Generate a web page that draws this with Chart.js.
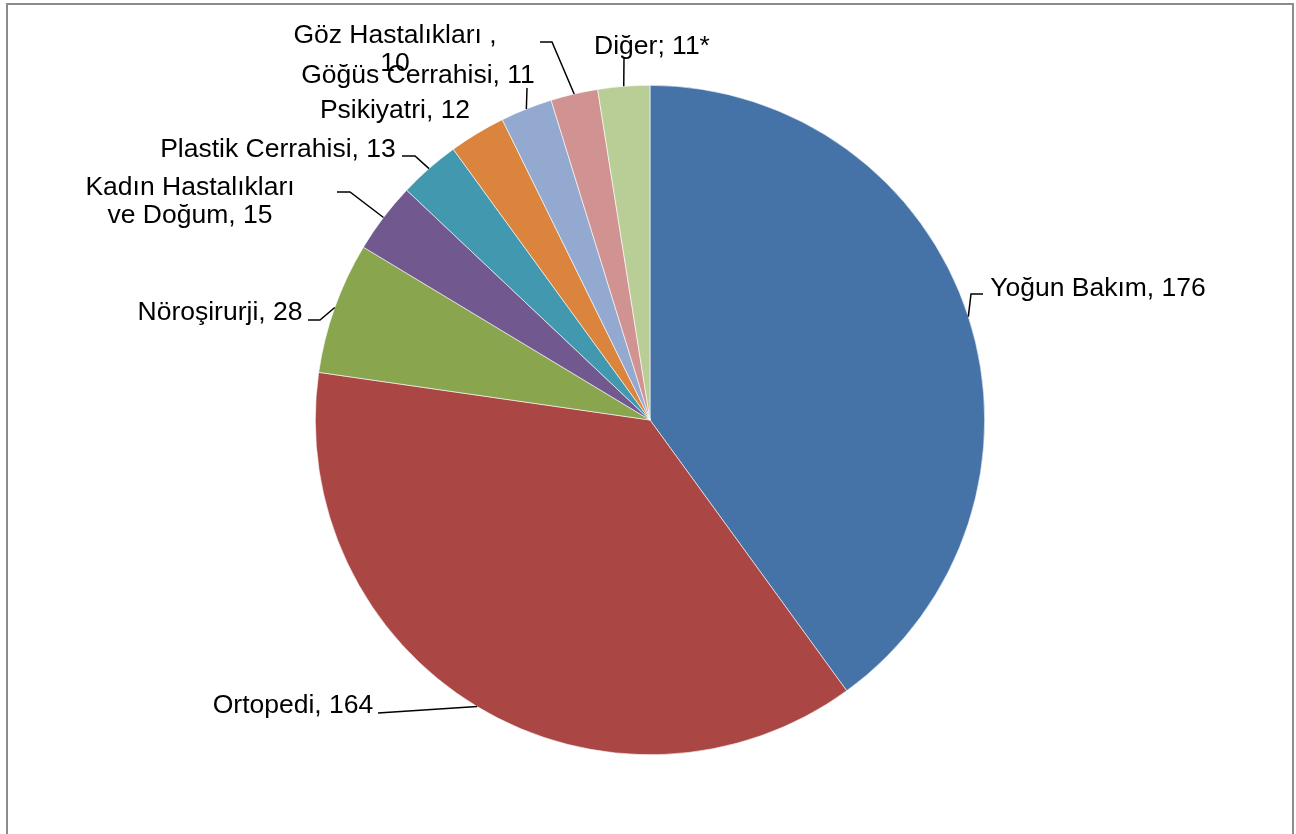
<!DOCTYPE html>
<html>
<head>
<meta charset="utf-8">
<script src="https://cdn.jsdelivr.net/npm/chart.js@4"></script>
<style>
  html, body { margin: 0; padding: 0; background: #fff; overflow: hidden; }
  #wrap { position: relative; width: 1296px; height: 834px; }
  #frame { position: absolute; left: 6px; top: 3px; width: 1288px; height: 900px;
           border: 2px solid #8c8c8c; box-sizing: border-box; pointer-events: none; }
  canvas { position: absolute; left: 0; top: 0; }
</style>
</head>
<body>
<div id="wrap">
  <canvas id="pie" width="1296" height="834"></canvas>
  <div id="frame"></div>
</div>
<script>
// values
const departments = ["Yoğun Bakım", "Ortopedi", "Nöroşirurji", "Kadın Hastalıkları ve Doğum",
                     "Plastik Cerrahisi", "Psikiyatri", "Göğüs Cerrahisi", "Göz Hastalıkları", "Diğer"];
const counts = [176, 164, 28, 15, 13, 12, 11, 10, 11];
const labelLines = [
    ["Yoğun Bakım, 176"],
    ["Ortopedi, 164"],
    ["Nöroşirurji, 28"],
    ["Kadın Hastalıkları", "ve Doğum, 15"],
    ["Plastik Cerrahisi, 13"],
    ["Psikiyatri, 12"],
    ["Göğüs Cerrahisi, 11"],
    ["Göz Hastalıkları ,", "10"],
    ["Diğer; 11*"]
];
const sliceColors = ["#4572A7", "#AA4643", "#89A54E", "#71588F", "#4198AF",
                     "#DB843D", "#93A9CF", "#D19392", "#B9CD96"];

// label placement: text centre x, first baseline y, and leader elbow points
const labelLayout = [
    { x: 1098, y: 296, elbow: [[983, 294], [971, 294]] },
    { x: 293,  y: 713, elbow: [[378, 713]] },
    { x: 220,  y: 320, elbow: [[308, 320], [320, 320]] },
    { x: 190,  y: 195, elbow: [[337, 192], [350, 192]] },
    { x: 278,  y: 157, elbow: [[402, 156], [415, 156]] },
    { x: 395,  y: 118, elbow: null },
    { x: 418,  y: 83,  elbow: [[527, 88]] },
    { x: 395,  y: 43,  elbow: [[540, 42], [552, 42]] },
    { x: 652,  y: 54,  elbow: [[624, 58]] }
];

const pieLabels = {
    id: "pieLabels",
    afterDraw(chart) {
        const ctx = chart.ctx;
        const arcs = chart.getDatasetMeta(0).data;
        ctx.save();
        ctx.strokeStyle = "#000";
        ctx.lineWidth = 1.5;
        arcs.forEach((arc, i) => {
            const lay = labelLayout[i];
            if (lay.elbow) {
                const mid = (arc.startAngle + arc.endAngle) / 2;
                const ex = arc.x + Math.cos(mid) * arc.outerRadius;
                const ey = arc.y + Math.sin(mid) * arc.outerRadius;
                ctx.beginPath();
                ctx.moveTo(lay.elbow[0][0], lay.elbow[0][1]);
                lay.elbow.slice(1).forEach(p => ctx.lineTo(p[0], p[1]));
                ctx.lineTo(ex, ey);
                ctx.stroke();
            }
        });
        ctx.fillStyle = "#000";
        ctx.font = "26.5px 'Liberation Sans', Arial, sans-serif";
        ctx.textAlign = "center";
        ctx.textBaseline = "alphabetic";
        labelLines.forEach((lines, i) => {
            const lay = labelLayout[i];
            lines.forEach((t, k) => ctx.fillText(t, lay.x, lay.y + k * 28));
        });
        ctx.restore();
    }
};

new Chart(document.getElementById("pie"), {
    type: "pie",
    data: {
        labels: departments,
        datasets: [{
            data: counts,
            backgroundColor: sliceColors,
            borderColor: "#ffffff",
            borderWidth: 0.6
        }]
    },
    options: {
        responsive: false,
        animation: false,
        layout: { padding: { top: 85, bottom: 79, left: 315, right: 311 } },
        plugins: {
            legend: { display: false },
            tooltip: { enabled: false }
        }
    },
    plugins: [pieLabels]
});
</script>
</body>
</html>
